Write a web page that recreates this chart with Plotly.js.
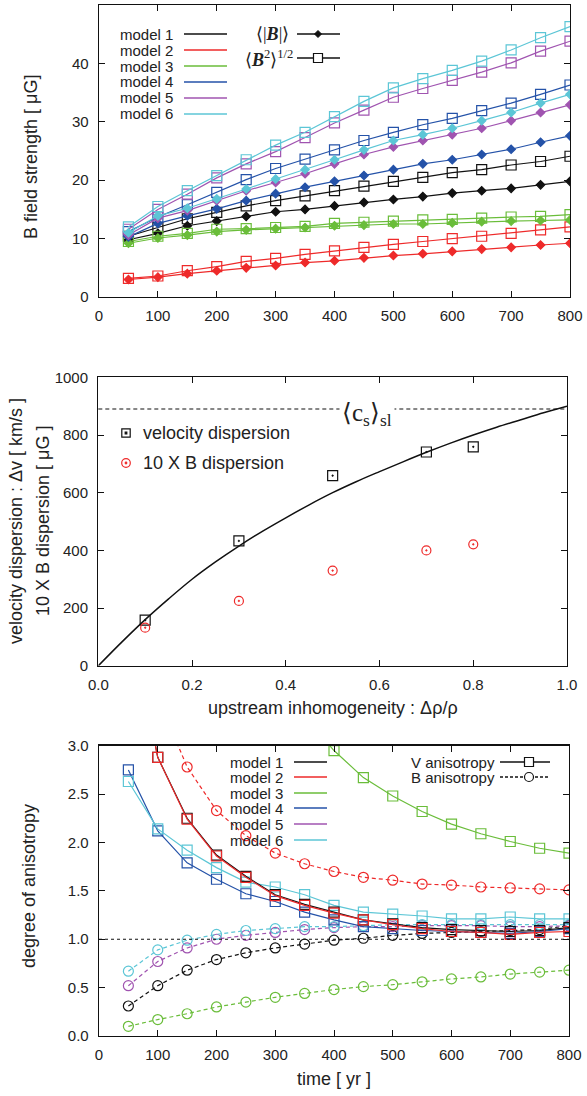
<!DOCTYPE html>
<html><head><meta charset="utf-8">
<script src="https://cdn.plot.ly/plotly-3.0.1.min.js"></script>
<style>body{margin:0;background:#fff}#chart{width:587px;height:1096px}</style>
</head><body><div id="chart"></div>
<script>
// ---------- data ----------
const times = [50,100,150,200,250,300,350,400,450,500,550,600,650,700,750,800];
const modelNames = ['model 1','model 2','model 3','model 4','model 5','model 6'];
const modelColors = ['#111111','#ee2a2a','#6abd3a','#2452a8','#a054b0','#5cc6d6'];

// top panel: <|B|> (diamonds) and <B^2>^1/2 (squares)  [muG]
const bMean1 = [9.8,10.9,12.2,13.0,13.8,14.6,15.0,15.6,16.2,16.7,17.2,17.8,18.2,18.6,19.2,19.8];
const bRms1  = [10.4,11.9,13.4,14.5,15.6,16.5,17.3,18.2,19.0,19.8,20.5,21.3,21.8,22.6,23.2,24.1];
const bMean2 = [3.0,3.4,4.0,4.5,5.0,5.4,5.9,6.2,6.7,7.1,7.4,7.8,8.2,8.5,8.9,9.2];
const bRms2  = [3.2,3.6,4.5,5.2,6.1,6.6,7.3,7.9,8.5,9.0,9.5,10.0,10.4,10.9,11.5,12.0];
const bMean3 = [9.2,10.1,10.6,11.2,11.5,11.7,11.9,12.2,12.3,12.5,12.5,12.7,12.9,13.0,13.1,13.2];
const bRms3  = [9.5,10.4,10.9,11.6,11.7,11.9,12.1,12.6,12.8,13.0,13.2,13.3,13.5,13.7,13.8,14.1];
const bMean4 = [10.3,12.6,13.9,15.1,16.5,17.7,18.8,19.8,20.8,21.8,22.8,23.5,24.4,25.3,26.5,27.6];
const bRms4  = [11.2,13.7,15.8,17.9,20.1,22.0,23.6,25.2,26.8,28.2,29.5,30.6,31.9,33.2,34.7,36.3];
const bMean5 = [10.6,13.5,14.8,16.5,18.2,19.6,21.1,22.8,24.4,25.7,26.8,27.8,28.9,30.2,31.6,32.9];
const bRms5  = [11.6,15.0,17.6,20.4,22.8,24.9,27.3,29.8,32.0,34.2,35.7,37.1,38.5,40.1,42.1,43.8];
const bMean6 = [11.0,13.9,15.2,16.8,18.5,20.2,21.8,23.5,25.2,26.8,27.8,28.9,30.2,31.6,33.2,34.7];
const bRms6  = [12.0,15.5,18.2,20.8,23.5,26.0,28.2,30.9,33.5,35.8,37.4,38.8,40.4,42.3,44.4,46.3];

// middle panel
const inhom   = [0.1,0.3,0.5,0.7,0.8];
const velDisp = [158,433,659,741,759];
const bDisp10 = [132,225,330,400,421];
const curveX  = [0,0.05,0.1,0.15,0.2,0.25,0.3,0.35,0.4,0.45,0.5,0.55,0.6,0.65,0.7,0.75,0.8,0.85,0.9,0.95,1.0];
const curveY  = [0,82,160,232,300,360,415,466,513,558,600,638,673,707,740,771,800,827,852,877,900];
const csSl = 890;

// bottom panel: anisotropy
const vAniso1 = [4.4,2.88,2.25,1.87,1.65,1.46,1.36,1.28,1.20,1.16,1.12,1.10,1.09,1.08,1.09,1.12];
const vAniso2 = [4.4,2.88,2.24,1.86,1.64,1.45,1.35,1.27,1.20,1.15,1.11,1.08,1.07,1.05,1.07,1.08];
const vAniso3 = [null,null,null,null,null,null,3.3,2.95,2.67,2.48,2.32,2.19,2.09,2.01,1.94,1.89];
const vAniso4 = [2.75,2.12,1.79,1.62,1.47,1.39,1.28,1.20,1.13,1.11,1.09,1.08,1.07,1.06,1.08,1.11];
const vAniso6 = [2.63,2.14,1.92,1.74,1.59,1.54,1.46,1.35,1.28,1.26,1.24,1.21,1.21,1.23,1.21,1.21];
const bAniso1 = [0.31,0.52,0.68,0.79,0.86,0.91,0.95,0.99,1.01,1.04,1.06,1.07,1.08,1.09,1.10,1.14];
const bAniso2 = [null,3.5,2.78,2.33,2.07,1.89,1.78,1.70,1.64,1.61,1.57,1.56,1.54,1.53,1.52,1.51];
const bAniso3 = [0.10,0.17,0.23,0.30,0.35,0.40,0.44,0.48,0.51,0.53,0.56,0.59,0.61,0.64,0.66,0.68];
const bAniso5 = [0.52,0.77,0.91,1.00,1.04,1.07,1.10,1.12,1.13,1.13,1.14,1.14,1.14,1.13,1.13,1.14];
const bAniso6 = [0.67,0.89,0.99,1.05,1.09,1.11,1.13,1.13,1.14,1.15,1.15,1.15,1.15,1.15,1.15,1.15];

// ---------- helpers ----------
const W = 587, H = 1096;
const px = x => x / W, py = y => 1 - y / H;
const FONT = 'Liberation Sans, Arial, Helvetica, sans-serif';
const SERIF = 'Liberation Serif, Times New Roman, serif';
const TXT = '#222';

const traces = [];
function line(x, y, color, xa, ya, sym, size, dash) {
  traces.push({
    x: x, y: y, xaxis: xa, yaxis: ya, type: 'scatter', mode: 'lines+markers',
    line: {color: color, width: 1.2, dash: dash || 'solid'},
    marker: {symbol: sym, size: size, color: color, line: {color: color, width: 1.2}},
    showlegend: false, hoverinfo: 'skip', connectgaps: false
  });
}

// top panel (draw rms squares, then means)
const tMean = [bMean1,bMean2,bMean3,bMean4,bMean5,bMean6];
const tRms  = [bRms1,bRms2,bRms3,bRms4,bRms5,bRms6];
for (let i = 0; i < 6; i++) {
  line(times, tRms[i], modelColors[i], 'x', 'y', 'square-open', 10, 'solid');
  line(times, tMean[i], modelColors[i], 'x', 'y', 'diamond', 6.5, 'solid');
}

// middle panel
traces.push({x: curveX, y: curveY, xaxis: 'x2', yaxis: 'y2', type: 'scatter', mode: 'lines',
  line: {color: '#111', width: 1.5, shape: 'spline'}, showlegend: false, hoverinfo: 'skip'});
traces.push({x: inhom, y: velDisp, xaxis: 'x2', yaxis: 'y2', type: 'scatter', mode: 'markers',
  marker: {symbol: 'square-open-dot', size: 10, color: '#111', line: {color: '#111', width: 1.2}},
  showlegend: false, hoverinfo: 'skip'});
traces.push({x: inhom, y: bDisp10, xaxis: 'x2', yaxis: 'y2', type: 'scatter', mode: 'markers',
  marker: {symbol: 'circle-open-dot', size: 9, color: '#ee2a2a', line: {color: '#ee2a2a', width: 1.2}},
  showlegend: false, hoverinfo: 'skip'});

// bottom panel
const bSeries = [[bAniso1,0],[bAniso2,1],[bAniso3,2],[bAniso5,4],[bAniso6,5]];
bSeries.forEach(([d, i]) => line(times, d, modelColors[i], 'x3', 'y3', 'circle-open', 10, '4px,3px'));
const vSeries = [[vAniso3,2],[vAniso4,3],[vAniso6,5],[vAniso1,0],[vAniso2,1]];
vSeries.forEach(([d, i]) => line(times, d, modelColors[i], 'x3', 'y3', 'square-open', 10, 'solid'));

// ---------- axes ----------
function ax(extra) {
  return Object.assign({
    showline: true, linecolor: '#111', linewidth: 1.3, mirror: 'ticks',
    ticks: 'inside', ticklen: 6, tickwidth: 1, tickcolor: '#111',
    showgrid: false, zeroline: false, fixedrange: true,
    tickfont: {family: FONT, size: 15, color: TXT}
  }, extra);
}

const layout = {
  width: W, height: H, margin: {l: 0, r: 0, t: 0, b: 0},
  paper_bgcolor: '#fff', plot_bgcolor: '#fff', showlegend: false,
  font: {family: FONT, color: TXT},
  xaxis:  ax({domain: [px(99), px(570)], range: [0, 800], dtick: 100, anchor: 'y', ticklabelstandoff: 5}),
  yaxis:  ax({domain: [py(297), py(5)], range: [0, 50], dtick: 10, anchor: 'x', ticklabelstandoff: 6}),
  xaxis2: ax({domain: [px(98.3), px(567)], range: [0, 1], dtick: 0.2, tickformat: '.1f', anchor: 'y2', ticklabelstandoff: 5}),
  yaxis2: ax({domain: [py(665.8), py(377.3)], range: [0, 1000], dtick: 200, anchor: 'x2', ticklabelstandoff: 6}),
  xaxis3: ax({domain: [px(99), px(569)], range: [0, 800], dtick: 100, anchor: 'y3', ticklabelstandoff: 5}),
  yaxis3: ax({domain: [py(1036), py(745.7)], range: [0, 3], dtick: 0.5, tickformat: '.1f', anchor: 'x3', ticklabelstandoff: 6}),
  shapes: [], annotations: []
};

const shapes = layout.shapes, ann = layout.annotations;
function pLine(x0, x1, y, color, dash, w) {
  shapes.push({type: 'line', xref: 'paper', yref: 'paper', x0: px(x0), x1: px(x1), y0: py(y), y1: py(y),
    line: {color: color, width: w || 1.3, dash: dash || 'solid'}});
}
function pText(text, x, y, xanchor, size, family, extra) {
  ann.push(Object.assign({text: text, xref: 'paper', yref: 'paper', x: px(x), y: py(y),
    xanchor: xanchor, yanchor: 'middle', showarrow: false,
    font: {family: family || FONT, size: size, color: TXT}}, extra || {}));
}
function pRect(cx, cy, h, color, fill) {
  shapes.push({type: 'rect', xref: 'paper', yref: 'paper', x0: px(cx - h), x1: px(cx + h),
    y0: py(cy + h), y1: py(cy - h), line: {color: color, width: 1.2}, fillcolor: fill || '#fff'});
}
function pDiamond(cx, cy, h, color) {
  const p = `M${px(cx)},${py(cy - h)} L${px(cx + h)},${py(cy)} L${px(cx)},${py(cy + h)} L${px(cx - h)},${py(cy)} Z`;
  shapes.push({type: 'path', xref: 'paper', yref: 'paper', path: p, fillcolor: color, line: {color: color, width: 1}});
}
function pCircle(cx, cy, r, color) {
  shapes.push({type: 'circle', xref: 'paper', yref: 'paper', x0: px(cx - r), x1: px(cx + r),
    y0: py(cy + r), y1: py(cy - r), line: {color: color, width: 1.2}, fillcolor: '#fff'});
}

// top legend
const topRows = [34, 50, 66, 82, 98, 114];
modelNames.forEach((n, i) => {
  pText(n, 175, topRows[i], 'right', 15);
  pLine(184, 227, topRows[i], modelColors[i]);
});
pText('⟨|<b><i>B</i></b>|⟩', 291, 34, 'right', 18, SERIF);
pLine(297, 340, 34, '#111');
pDiamond(318, 34, 3.5, '#111');
pText('⟨<b><i>B</i></b><sup>2</sup>⟩<sup>1/2</sup>', 295, 58, 'right', 18, SERIF);
pLine(297, 340, 58, '#111');
pRect(318, 58, 4.5, '#111');

// middle legend
pRect(126, 433, 4.2, '#111');
pRect(126, 433, 0.8, '#111', '#111');
pText('velocity dispersion', 141, 433, 'left', 18);
pCircle(126, 463, 4.3, '#ee2a2a');
pCircle(126, 463, 0.8, '#ee2a2a');
pText('10 X B dispersion', 141, 463, 'left', 18);

// c_s dashed line and label
shapes.push({type: 'line', xref: 'x2 domain', yref: 'y2', x0: 0, x1: 1, y0: csSl, y1: csSl,
  line: {color: '#111', width: 1.1, dash: '4px,3px'}});
ann.push({text: '⟨c<sub>s</sub>⟩<sub>sl</sub>', xref: 'x2', yref: 'y2', x: 0.573, y: csSl, yshift: -5,
  showarrow: false, bgcolor: '#fff', borderpad: 2, font: {family: SERIF, size: 25, color: TXT}});

// bottom: reference line at 1
shapes.push({type: 'line', xref: 'x3 domain', yref: 'y3', x0: 0, x1: 1, y0: 1, y1: 1,
  line: {color: '#111', width: 1.1, dash: 'dot'}});

// bottom legend
const botRows = [762, 777, 793, 808, 824, 840];
modelNames.forEach((n, i) => {
  pText(n, 285, botRows[i], 'right', 15);
  pLine(294, 327, botRows[i], modelColors[i]);
});
pText('V anisotropy', 497, 762, 'right', 15);
pLine(500, 550, 762, '#111');
pRect(529, 762, 4.5, '#111');
pText('B anisotropy', 497, 777, 'right', 15);
pLine(500, 550, 777, '#111', '3px,2px');
pCircle(529, 777, 4.5, '#111');

// axis titles
pText('B field strength [ μG]', 31, 157, 'center', 18, FONT, {textangle: -90});
pText('velocity dispersion : Δv [ km/s ]', 16, 521, 'center', 18, FONT, {textangle: -90});
pText('10 X B dispersion [ μG ]', 43, 521, 'center', 18, FONT, {textangle: -90});
pText('upstream inhomogeneity : Δρ/ρ', 333, 708, 'center', 18);
pText('degree of anisotropy', 29, 886, 'center', 18, FONT, {textangle: -90});
pText('time [ yr ]', 334, 1079, 'center', 18);

Plotly.newPlot('chart', traces, layout, {displayModeBar: false, staticPlot: true});
</script></body></html>
